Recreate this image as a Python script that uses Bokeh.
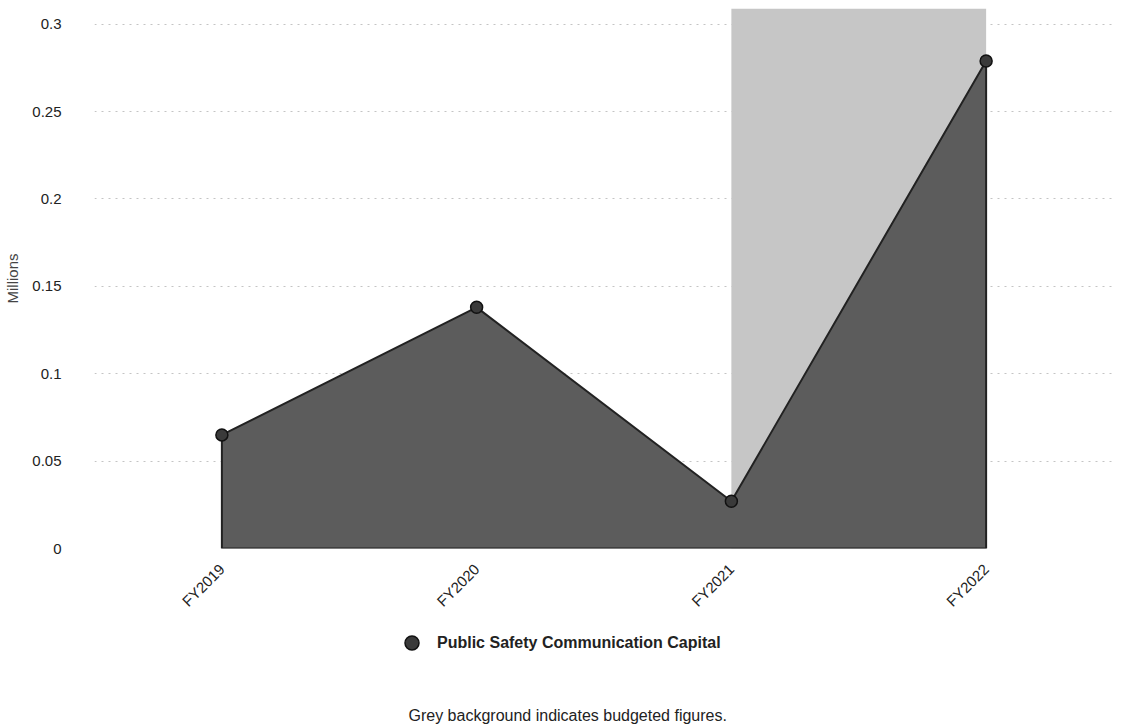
import math
from bokeh.plotting import figure
from bokeh.layouts import column
from bokeh.models import Legend, LegendItem, Label, Range1d, FixedTicker, ColumnDataSource
from bokeh.embed import file_html
from bokeh.resources import INLINE

# ---- data ----
years = ["FY2019", "FY2020", "FY2021", "FY2022"]
values = [0.065, 0.138, 0.027, 0.279]
budget_years = ["FY2021", "FY2022"]
y_ticks = [0, 0.05, 0.1, 0.15, 0.2, 0.25, 0.3]
y_tick_labels = ["0", "0.05", "0.1", "0.15", "0.2", "0.25", "0.3"]
series_name = "Public Safety Communication Capital"
caption = "Grey background indicates budgeted figures."
y_label = "Millions"

FONT = "Liberation Sans"
AREA = "#5c5c5c"
PT_FILL = "#3a3a3a"
PT_LINE = "#111111"

W = 1113
LEFT = 94
p = figure(x_range=years, y_range=Range1d(0, 0.309), width=W, height=620,
           output_backend="svg", toolbar_location=None,
           min_border_left=LEFT, min_border_right=0, min_border_top=8, min_border_bottom=72)
p.outline_line_color = None

# budget background
p.quad(left=[budget_years[0]], right=[budget_years[-1]], bottom=[0], top=[p.y_range.end],
       fill_color="#c6c6c6", line_color=None)

# area
src = ColumnDataSource(dict(x=years + years[::-1], y=values + [0] * len(years)))
p.patch(x="x", y="y", source=src, fill_color=AREA, line_color="#222222", line_width=2)
p.scatter(x=years, y=values, size=12, fill_color=PT_FILL, line_color=PT_LINE, line_width=1.5)

# axes
p.yaxis.ticker = FixedTicker(ticks=y_ticks)
p.yaxis.major_label_overrides = {t: l for t, l in zip(y_ticks, y_tick_labels)}
p.yaxis.axis_label = y_label
p.yaxis.axis_label_text_font = FONT
p.yaxis.axis_label_text_font_style = "normal"
p.yaxis.axis_label_text_font_size = "15px"
p.yaxis.axis_label_standoff = 8
p.yaxis.major_label_standoff = 27
for ax in (p.xaxis[0], p.yaxis[0]):
    ax.axis_line_color = None
    ax.major_tick_line_color = None
    ax.minor_tick_line_color = None
    ax.major_label_text_font = FONT
    ax.major_label_text_font_size = "15px"
    ax.major_label_text_color = "#222222"
p.xaxis.major_label_orientation = math.pi / 4
p.xaxis.major_label_standoff = 12

p.xgrid.grid_line_color = None
p.ygrid.grid_line_color = "#c4c4c4"
p.ygrid.grid_line_dash = "2 5"
p.ygrid.level = "underlay"

# ---- legend + caption strip (data units = page pixels) ----
H2 = 104
p2 = figure(width=W, height=H2, x_range=Range1d(LEFT, W), y_range=Range1d(0, H2),
            output_backend="svg", toolbar_location=None,
            x_axis_location=None, y_axis_location=None,
            min_border_left=LEFT, min_border_right=0, min_border_top=0, min_border_bottom=0)
p2.outline_line_color = None
p2.xgrid.visible = False
p2.ygrid.visible = False
# legend proxy glyph, kept outside the visible range
leg_r = p2.scatter(x=[LEFT], y=[-H2], size=12, fill_color=PT_FILL, line_color=PT_LINE, line_width=1.5)

legend = Legend(items=[LegendItem(label=series_name, renderers=[leg_r])],
                orientation="horizontal", location=(300, 64),
                label_text_font=FONT, label_text_font_style="bold",
                label_text_font_size="16px", label_text_color="#222222",
                label_standoff=8,
                border_line_color=None, background_fill_alpha=0,
                glyph_width=35, glyph_height=35, margin=0, padding=5)
p2.add_layout(legend, "center")

p2.add_layout(Label(x=408, y=9, text=caption, text_font=FONT, text_font_size="16px",
                    text_color="#222222", text_baseline="middle", text_align="left"))

open("out.html", "w").write(file_html(column(p, p2, spacing=0), INLINE))
